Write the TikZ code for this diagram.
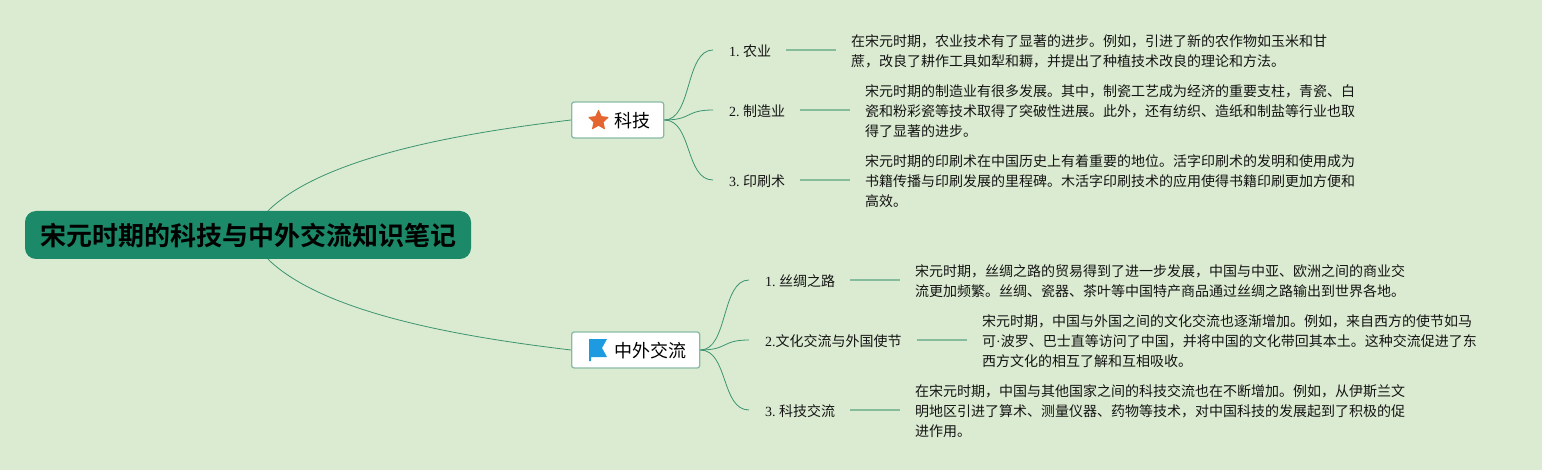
\documentclass[tikz,border=0pt]{standalone}
\usepackage{fontspec}
\setmainfont{Liberation Serif}
\newfontfamily\cjk{Noto Sans CJK SC}
\newfontfamily\cjkb{Noto Sans CJK SC Bold}
\usetikzlibrary{shapes.geometric}
\definecolor{bgc}{HTML}{DBEBD1}
\definecolor{rootc}{HTML}{1C8A68}
\definecolor{edgec}{HTML}{3C9470}
\definecolor{linkc}{HTML}{85BC9B}
\definecolor{boxc}{HTML}{88BBA6}
\definecolor{inkc}{HTML}{141414}
\definecolor{starc}{HTML}{E4652F}
\definecolor{flagc}{HTML}{1E9AE0}
\tikzset{
  x=1pt,y=-1pt,
  rootbox/.style={fill=rootc,rounded corners=11pt,minimum width=446pt,minimum height=48pt,inner sep=0pt,text=black,font=\fontsize{26}{30}\selectfont\cjkb},
  branchbox/.style={draw=boxc,line width=1.3pt,fill=white,rounded corners=2.5pt,minimum height=36pt,inner sep=0pt,anchor=west,text height=15.6pt,text depth=0pt,text=black,font=\fontsize{18}{22}\selectfont\cjk},
  leaflabel/.style={anchor=west,inner xsep=16pt,inner ysep=2pt,text=inkc,font=\fontsize{14}{20}\selectfont\cjk},
  bodytext/.style={anchor=west,inner xsep=15pt,inner ysep=0pt,align=left,text=inkc,font=\fontsize{14}{20}\selectfont\cjk},
  curve/.style={draw=edgec,line width=0.8pt},
  link/.style={draw=linkc,line width=1.3pt},
}
\newcommand{\lat}[1]{{\rmfamily #1}}
\newcommand{\num}[1]{{\rmfamily #1}\hspace{3.5pt}}
\begin{document}
\begin{tikzpicture}
\useasboundingbox (0,0) rectangle (1542,470);
\fill[bgc] (0,0) rectangle (1542,470);

\node[rootbox] (root) at (248,235) {宋元时期的科技与中外交流知识笔记};

\node[branchbox] (tech) at (571,120) {\hspace*{42.5pt}科技\hspace*{13.5pt}};
\node[branchbox] (exch) at (571,350) {\hspace*{42.5pt}中外交流\hspace*{13.5pt}};

\node[star,star points=5,star point ratio=2.1,fill=starc,draw=starc,line width=1pt,line join=round,minimum size=20pt,inner sep=0pt] (staricon) at (598.5,120.5) {};
\fill[flagc] (589,339) -- (607,339) -- (602,348) -- (607,357) -- (591,357) -- (591,361) -- (589,361) -- cycle;

\node[leaflabel] (a1) at (713,51) {\num{1.}农业};
\node[leaflabel] (a2) at (713,111) {\num{2.}制造业};
\node[leaflabel] (a3) at (713,181) {\num{3.}印刷术};
\node[leaflabel] (b1) at (749,281) {\num{1.}丝绸之路};
\node[leaflabel] (b2) at (749,341) {\lat{2.}文化交流与外国使节};
\node[leaflabel] (b3) at (749,411) {\num{3.}科技交流};

\node[bodytext] (ta1) at (836,51) {在宋元时期，农业技术有了显著的进步。例如，引进了新的农作物如玉米和甘\\蔗，改良了耕作工具如犁和耨，并提出了种植技术改良的理论和方法。};
\node[bodytext] (ta2) at (850,111) {宋元时期的制造业有很多发展。其中，制瓷工艺成为经济的重要支柱，青瓷、白\\瓷和粉彩瓷等技术取得了突破性进展。此外，还有纺织、造纸和制盐等行业也取\\得了显著的进步。};
\node[bodytext] (ta3) at (850,181) {宋元时期的印刷术在中国历史上有着重要的地位。活字印刷术的发明和使用成为\\书籍传播与印刷发展的里程碑。木活字印刷技术的应用使得书籍印刷更加方便和\\高效。};
\node[bodytext] (tb1) at (900,281) {宋元时期，丝绸之路的贸易得到了进一步发展，中国与中亚、欧洲之间的商业交\\流更加频繁。丝绸、瓷器、茶叶等中国特产商品通过丝绸之路输出到世界各地。};
\node[bodytext] (tb2) at (967,341) {宋元时期，中国与外国之间的文化交流也逐渐增加。例如，来自西方的使节如马\\可\lat{·}波罗、巴士直等访问了中国，并将中国的文化带回其本土。这种交流促进了东\\西方文化的相互了解和互相吸收。};
\node[bodytext] (tb3) at (900,411) {在宋元时期，中国与其他国家之间的科技交流也在不断增加。例如，从伊斯兰文\\明地区引进了算术、测量仪器、药物等技术，对中国科技的发展起到了积极的促\\进作用。};

\draw[curve] ([xshift=20pt]root.north) .. controls (325,155) and (470,132) .. (tech.west);
\draw[curve] ([xshift=20pt]root.south) .. controls (325,315) and (470,338) .. (exch.west);

\foreach \s/\t in {tech/a1,tech/a2,tech/a3,exch/b1,exch/b2,exch/b3}{
  \draw[curve] (\s.east) .. controls +(28,0) and ([xshift=-28pt,yshift=1pt]\t.west) .. ([yshift=1pt]\t.west);
}
\foreach \l/\t in {a1/ta1,a2/ta2,a3/ta3,b1/tb1,b2/tb2,b3/tb3}{
  \draw[link] ([xshift=-1pt,yshift=1pt]\l.east) -- ([yshift=1pt]\l.east -| \t.west);
}
\end{tikzpicture}
\end{document}
